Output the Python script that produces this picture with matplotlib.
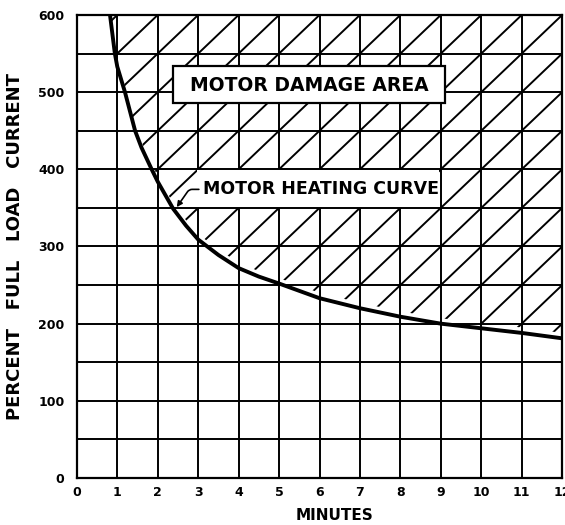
import numpy as np
import matplotlib
matplotlib.use("Agg")
import matplotlib.pyplot as plt
from matplotlib.collections import LineCollection
from matplotlib.patches import Polygon, Rectangle

# %% data
minutes = [0.82, 0.94, 1.0, 1.19, 1.44, 1.6, 1.85, 2.0, 2.38, 2.7, 3.0, 3.5, 4.0, 4.5,
           5.0, 6.0, 7.0, 8.0, 9.0, 10.0, 11.0, 12.0]
percent = [600, 550, 533, 500, 450, 428, 400, 384, 349, 327, 309, 289, 272, 261,
           252, 233, 220, 209, 200, 194, 188, 181]
x_ticks = list(range(0, 13))
y_ticks = list(range(0, 601, 100))
y_grid = list(range(0, 601, 50))

# %% figure
fig = plt.figure(figsize=(5.65, 5.25), dpi=100)
ax = fig.add_axes([0.136, 0.0895, 0.859, 0.882])
ax.set_xlim(0, 12)
ax.set_ylim(0, 600)

# grid: verticals under the label box, horizontals over it
for xv in x_ticks:
    ax.axvline(xv, color='black', lw=1.4, zorder=1)
for yv in y_grid:
    ax.axhline(yv, color='black', lw=1.4, zorder=2.5)

# diagonal hatch through the grid corners, clipped to the area above the curve
# (the hatch stops a little short of the curve, as in the original)
hatch_gap = 7
segs = []
for c in range(-600, 601, 50):
    segs.append([(0, c), (12, c + 600)])
hatch = LineCollection(segs, colors='black', linewidths=1.4, zorder=1.5)
ax.add_collection(hatch)
edge = [(m, p + hatch_gap) for m, p in zip(minutes, percent)]
region = Polygon(edge + [(12, 600), (minutes[0], 600)],
                 closed=True, fc='none', ec='none', transform=ax.transData)
ax.add_patch(region)
hatch.set_clip_path(region)

ax.plot(minutes, percent, color='black', lw=2.8, zorder=4,
        solid_joinstyle='round', solid_capstyle='butt')

# labels in the plot
ax.add_patch(Rectangle((2.38, 486), 6.72, 48, fc='white', ec='black', lw=1.6, zorder=3))
ax.text(5.74, 509, 'MOTOR DAMAGE AREA', ha='center', va='center',
        fontsize=13.5, fontweight='bold', zorder=5)

ax.add_patch(Rectangle((2.96, 350), 6.0, 50, fc='white', ec='none', zorder=2))
ax.annotate('MOTOR HEATING CURVE', xy=(2.47, 351), xytext=(3.12, 374),
            ha='left', va='center', fontsize=12.5, fontweight='bold', zorder=5,
            arrowprops=dict(arrowstyle='-|>', color='black', lw=1.2,
                            mutation_scale=8,
                            connectionstyle='angle,angleA=180,angleB=55,rad=3',
                            shrinkA=1, shrinkB=0))

# axes styling
for s in ax.spines.values():
    s.set_linewidth(1.6)
    s.set_zorder(6)
ax.set_xticks(x_ticks)
ax.set_yticks(y_ticks)
ax.tick_params(length=0, labelsize=9)
ax.tick_params(axis='x', pad=6)
ax.tick_params(axis='y', pad=9)
for lab in ax.get_xticklabels() + ax.get_yticklabels():
    lab.set_fontweight('bold')
ax.set_xlabel('MINUTES', fontsize=11, fontweight='bold')
ax.xaxis.set_label_coords(0.53, -0.065)
ax.set_ylabel('PERCENT   FULL   LOAD   CURRENT', fontsize=13, fontweight='bold', labelpad=10)

fig.savefig('out.png', dpi=100)
